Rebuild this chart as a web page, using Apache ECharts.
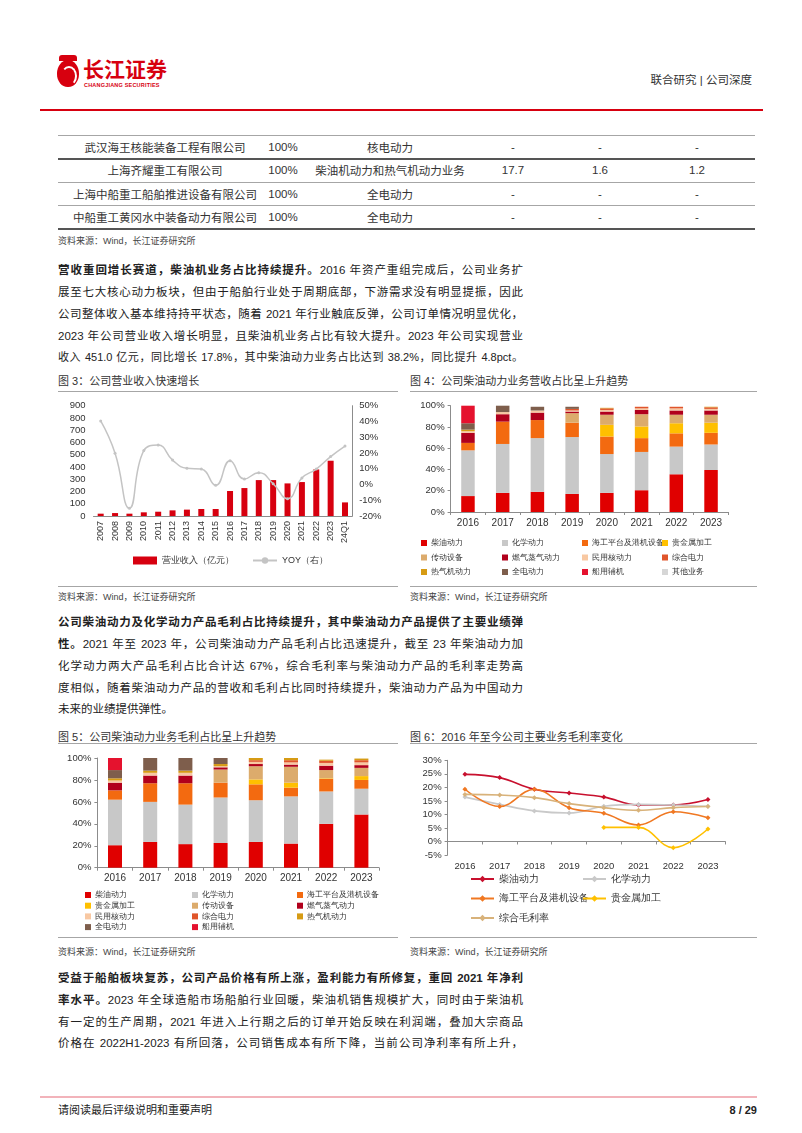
<!DOCTYPE html>
<html>
<head>
<meta charset="UTF-8" />
<title>中国动力 公司深度</title>
<style>
* { margin: 0; padding: 0; }
body {
  width: 802px; height: 1133px; position: relative; overflow: hidden; background: #fff;
  font-family: "Liberation Sans", "Noto Sans CJK SC", sans-serif; color: #222;
}
.abs { position: absolute; }
.txt { position: absolute; left: 58px; width: 465px; font-size: 11.5px; height: 22px; line-height: 22px;
  text-align: justify; text-align-last: justify; }
.txt.last { text-align-last: left; }
.cell { position: absolute; font-size: 11.5px; color: #333; transform: translate(-50%, -50%); white-space: nowrap; }
.hr { position: absolute; height: 1px; background: #a6a6a6; }
.figt { position: absolute; font-size: 11px; color: #333; line-height: 14px; }
.src { position: absolute; font-size: 9px; color: #444; line-height: 12px; }
.chart { position: absolute; }
</style>
</head>
<body>
<!-- header -->
<div class="abs" style="left:57px;top:60px;width:22px;height:27px;border-radius:50% 50% 48% 48%;background:#d7000f;"></div>
<div class="abs" style="left:61px;top:66px;width:12px;height:16px;border-radius:50%;border:2px solid #fff;border-left-color:transparent;border-bottom-color:transparent;"></div>
<div class="abs" style="left:59px;top:55px;width:18px;height:6px;border-radius:3px 3px 0 0;background:#d7000f;"></div>
<div class="abs" style="left:83px;top:58px;font-size:21px;font-weight:bold;color:#d7000f;line-height:24px;">长江证券</div>
<div class="abs" style="left:84px;top:82px;font-size:5.5px;font-weight:bold;color:#d7000f;line-height:7px;letter-spacing:0.2px;">CHANGJIANG SECURITIES</div>
<div class="abs" style="right:50px;top:73px;font-size:11.5px;color:#333;line-height:14px;">联合研究 | 公司深度</div>
<div class="abs" style="left:40px;top:109px;width:723px;height:2px;background:#d7000f;"></div>

<!-- table -->
<div class="hr" style="left:58px;top:135px;width:697px;"></div>
<div class="hr" style="left:58px;top:158px;width:697px;height:2px;background:#555;"></div>
<div class="hr" style="left:58px;top:182px;width:697px;"></div>
<div class="hr" style="left:58px;top:205px;width:697px;"></div>
<div class="hr" style="left:58px;top:228px;width:697px;height:2px;background:#555;"></div>
<div id="table"></div>
<div class="src" style="left:58px;top:235px;">资料来源：Wind，长江证券研究所</div>

<!-- paragraph 1 -->
<div class="txt" style="top:259px;"><b>营收重回增长赛道，柴油机业务占比持续提升。</b>2016 年资产重组完成后，公司业务扩</div>
<div class="txt" style="top:281px;">展至七大核心动力板块，但由于船舶行业处于周期底部，下游需求没有明显提振，因此</div>
<div class="txt" style="top:303px;">公司整体收入基本维持持平状态，随着 2021 年行业触底反弹，公司订单情况明显优化，</div>
<div class="txt" style="top:325px;">2023 年公司营业收入增长明显，且柴油机业务占比有较大提升。2023 年公司实现营业</div>
<div class="txt" style="top:346px;font-size:11px;">收入 451.0 亿元，同比增长 17.8%，其中柴油动力业务占比达到 38.2%，同比提升 4.8pct。</div>

<!-- figures 3/4 -->
<div class="figt" style="left:58px;top:374px;">图 3：公司营业收入快速增长</div>
<div class="figt" style="left:410px;top:374px;">图 4：公司柴油动力业务营收占比呈上升趋势</div>
<div class="hr" style="left:58px;top:391px;width:340px;"></div>
<div class="hr" style="left:410px;top:391px;width:347px;"></div>
<div id="c3" class="chart" style="left:55px;top:395px;width:345px;height:190px;"></div>
<div id="c4" class="chart" style="left:405px;top:395px;width:360px;height:190px;"></div>
<div class="hr" style="left:58px;top:586px;width:340px;"></div>
<div class="hr" style="left:410px;top:586px;width:347px;"></div>
<div class="src" style="left:58px;top:591px;">资料来源：Wind，长江证券研究所</div>
<div class="src" style="left:410px;top:591px;">资料来源：Wind，长江证券研究所</div>

<!-- paragraph 2 -->
<div class="txt" style="top:611px;"><b>公司柴油动力及化学动力产品毛利占比持续提升，其中柴油动力产品提供了主要业绩弹</b></div>
<div class="txt" style="top:633px;"><b>性。</b>2021 年至 2023 年，公司柴油动力产品毛利占比迅速提升，截至 23 年柴油动力加</div>
<div class="txt" style="top:655px;">化学动力两大产品毛利占比合计达 67%，综合毛利率与柴油动力产品的毛利率走势高</div>
<div class="txt" style="top:677px;">度相似，随着柴油动力产品的营收和毛利占比同时持续提升，柴油动力产品为中国动力</div>
<div class="txt last" style="top:698px;">未来的业绩提供弹性。</div>

<!-- figures 5/6 -->
<div class="figt" style="left:58px;top:730px;">图 5：公司柴油动力业务毛利占比呈上升趋势</div>
<div class="figt" style="left:410px;top:730px;">图 6：2016 年至今公司主要业务毛利率变化</div>
<div class="hr" style="left:58px;top:743px;width:340px;"></div>
<div class="hr" style="left:410px;top:743px;width:347px;"></div>
<div id="c5" class="chart" style="left:55px;top:745px;width:345px;height:190px;"></div>
<div id="c6" class="chart" style="left:405px;top:745px;width:360px;height:190px;"></div>
<div class="hr" style="left:58px;top:937px;width:340px;"></div>
<div class="hr" style="left:410px;top:937px;width:347px;"></div>
<div class="src" style="left:58px;top:946px;">资料来源：Wind，长江证券研究所</div>
<div class="src" style="left:410px;top:946px;">资料来源：Wind，长江证券研究所</div>

<!-- paragraph 3 -->
<div class="txt" style="top:967px;"><b>受益于船舶板块复苏，公司产品价格有所上涨，盈利能力有所修复，重回 2021 年净利</b></div>
<div class="txt" style="top:989px;"><b>率水平。</b>2023 年全球造船市场船舶行业回暖，柴油机销售规模扩大，同时由于柴油机</div>
<div class="txt" style="top:1011px;">有一定的生产周期，2021 年进入上行期之后的订单开始反映在利润端，叠加大宗商品</div>
<div class="txt" style="top:1032px;">价格在 2022H1-2023 有所回落，公司销售成本有所下降，当前公司净利率有所上升，</div>

<!-- footer -->
<div class="abs" style="left:40px;top:1096px;width:717px;height:2px;background:#f2b3ba;"></div>
<div class="abs" style="left:58px;top:1103px;font-size:11px;color:#222;line-height:14px;">请阅读最后评级说明和重要声明</div>
<div class="abs" style="right:45px;top:1103px;font-size:11px;font-weight:bold;color:#222;line-height:14px;">8 / 29</div>

<script src="https://cdn.jsdelivr.net/npm/echarts@6/dist/echarts.min.js"></script>
<script>
// table rows
const tableRows = [
  ['武汉海王核能装备工程有限公司', '100%', '核电动力', '-', '-', '-'],
  ['上海齐耀重工有限公司', '100%', '柴油机动力和热气机动力业务', '17.7', '1.6', '1.2'],
  ['上海中船重工船舶推进设备有限公司', '100%', '全电动力', '-', '-', '-'],
  ['中船重工黄冈水中装备动力有限公司', '100%', '全电动力', '-', '-', '-']
]
const colCenters = [165, 283, 390, 513, 600, 697]
const rowCenters = [147, 170, 194, 217]
let html = ''
tableRows.forEach((r, i) => {
  r.forEach((t, j) => {
    html += `<div class="cell" style="left:${colCenters[j]}px;top:${rowCenters[i]}px;">${t}</div>`
  })
})
document.getElementById('table').innerHTML = html

// ---- data ----
const revYears = ['2007','2008','2009','2010','2011','2012','2013','2014','2015','2016','2017','2018','2019','2020','2021','2022','2023','24Q1']
const revenue = [19, 24, 19, 30, 35, 46, 52, 57, 57, 204, 228, 293, 293, 266, 277, 380, 451, 111]
const revYoy = [40.3, 19.8, -15.1, 21.5, 25.0, 15.5, 10.3, 9.8, -0.5, 15.1, 3.5, 7.5, 0.5, -9.0, 4.1, 9.8, 17.7, 24.4]

const years = ['2016','2017','2018','2019','2020','2021','2022','2023']
const segNames = ['柴油动力','化学动力','海工平台及港机设备','贵金属加工','传动设备','燃气蒸气动力','民用核动力','综合电力','热气机动力','全电动力','船用辅机','其他业务']
const segColors = ['#e00000','#c8c8c8','#f36a10','#ffc000','#dcab6c','#b1001c','#f8c8a2','#e0552b','#d69b14','#7e5e4c','#e5122e','#d6d6d6']

// revenue share (%)
const revDiesel   = [15, 18, 19, 17, 18, 20.5, 35.5, 39.5]
const revChem     = [43, 46, 50.5, 53.5, 36.5, 36, 26, 24]
const revOffshore = [7, 21, 17, 13.5, 16.5, 13, 12.5, 11]
const revMetal    = [0, 0, 0, 0, 11, 11, 9.5, 9.5]
const revTrans    = [0, 0, 0, 9, 9.5, 11.5, 8, 7.5]
const revGas      = [9.5, 7, 7, 1.5, 3, 4, 4, 4]
const revNuclear  = [1.5, 2, 2, 1, 1.5, 1.5, 2, 1.5]
const revPower    = [0, 0, 0, 1.5, 1.5, 1.5, 1.5, 1.5]
const revStirling = [1.5, 0, 0, 0, 0.5, 0, 0, 0.5]
const revAllElec  = [6, 6, 3.5, 2, 0, 0, 0, 0]
const revAux      = [16.5, 0, 0, 0, 0, 0, 0, 0]
const revOther    = [0, 0, 0, 0, 0, 0, 0, 0]

// gross profit share (%)
const gpDiesel   = [20.5, 23.5, 21.5, 22.5, 23.5, 22, 40, 48.5]
const gpChem     = [41.5, 36.5, 36, 41.5, 38, 43, 29.5, 23.5]
const gpOffshore = [8.5, 17, 19.5, 13.5, 14.5, 8, 11.5, 8]
const gpMetal    = [0, 0, 0, 0, 4.5, 4.5, 0.5, 3.5]
const gpTrans    = [0, 0, 0, 12, 12, 14.5, 7.5, 7.5]
const gpGas      = [7, 7, 7, 2, 2, 2, 4, 2.5]
const gpNuclear  = [2, 2.5, 2.5, 1, 2, 2, 2.5, 2.5]
const gpPower    = [0, 0, 0, 0, 1.5, 2, 2, 2]
const gpStirling = [2, 2, 2, 2, 2, 2, 1, 1.5]
const gpAllElec  = [7.5, 11.5, 11.5, 5.5, 0, 0, 0, 0]
const gpAux      = [11, 0, 0, 0, 0, 0, 0, 0]

// gross margin (%)
const gmNames = ['柴油动力','化学动力','海工平台及港机设备','贵金属加工','综合毛利率']
const gmColors = ['#c8102e','#c9c9c9','#f07822','#ffc000','#d8b27a']
const gmDiesel   = [24.8, 23.6, 19.3, 17.9, 16.4, 13.5, 13.5, 15.5]
const gmChem     = [16.4, 13.7, 11.3, 10.5, 13.0, 13.7, 13.5, 13.0]
const gmOffshore = [19.3, 12.9, 19.3, 12.5, 10.4, 6.1, 11.0, 8.8]
const gmMetal    = [null, null, null, null, 5.2, 5.2, -2.3, 4.6]
const gmTotal    = [17.4, 17.2, 16.2, 14.0, 12.5, 11.5, 12.5, 12.9]

const axisColor = '#8c8c8c'
const labelStyle = { color: '#333', fontSize: 9.5, fontFamily: 'Liberation Sans' }

// ---- chart 3 ----
let c3 = echarts.init(document.getElementById('c3'))
c3.setOption({
  animation: false,
  grid: { left: 38.5, right: 47.8, top: 10.7, bottom: 69, containLabel: false, outerBoundsMode: 'none' },
  legend: {
    left: 78, top: 161, padding: 0, itemGap: 18, itemWidth: 24, itemHeight: 8,
    textStyle: { color: '#333', fontSize: 9 },
    data: [{ name: '营业收入（亿元）', icon: 'rect' }, { name: 'YOY（右）' }]
  },
  xAxis: {
    type: 'category', data: revYears,
    axisLine: { lineStyle: { color: axisColor } }, axisTick: { show: false },
    axisLabel: Object.assign({ rotate: 90, interval: 0, margin: 5 }, labelStyle, { fontSize: 9 })
  },
  yAxis: [
    { type: 'value', min: 0, max: 900, interval: 100, splitLine: { show: false },
      axisLine: { show: false }, axisTick: { show: false },
      axisLabel: Object.assign({ margin: 8 }, labelStyle) },
    { type: 'value', min: -20, max: 50, interval: 10, splitLine: { show: false },
      axisLine: { show: true, lineStyle: { color: axisColor } }, axisTick: { show: false },
      axisLabel: Object.assign({ formatter: '{value}%', margin: 7 }, labelStyle) }
  ],
  series: [
    { name: '营业收入（亿元）', type: 'bar', data: revenue, barWidth: 6, itemStyle: { color: '#d7000f' } },
    { name: 'YOY（右）', type: 'line', yAxisIndex: 1, data: revYoy, smooth: 0.5,
      symbol: 'circle', symbolSize: 3, lineStyle: { color: '#c4c4c4', width: 1.5 }, itemStyle: { color: '#c4c4c4' } }
  ]
})

// ---- stacked helper ----
function stackSeries(names, colors, arrays, bw) {
  return arrays.map((d, i) => ({
    name: names[i], type: 'bar', stack: 'all', data: d, barWidth: bw,
    itemStyle: { color: colors[i] }
  }))
}
function gridLegends(cols, lefts, top, gap, fontSize, lineH) {
  return cols.map((names, i) => ({
    orient: 'vertical', left: lefts[i], top: top, padding: 0, itemGap: gap,
    itemWidth: 6, itemHeight: 6, icon: 'rect',
    textStyle: { color: '#333', fontSize: fontSize, lineHeight: lineH, padding: [0, 0, 0, -1] },
    data: names
  }))
}
const pctAxis = {
  type: 'value', min: 0, max: 100, interval: 20, splitLine: { show: false },
  axisLine: { show: true, lineStyle: { color: axisColor } },
  axisTick: { show: true, length: 3, lineStyle: { color: axisColor } },
  axisLabel: Object.assign({ formatter: '{value}%', margin: 6 }, labelStyle)
}
const yearAxis = {
  type: 'category', data: years,
  axisLine: { lineStyle: { color: axisColor } },
  axisTick: { show: true, length: 3, lineStyle: { color: axisColor } },
  axisLabel: Object.assign({ margin: 6 }, labelStyle, { fontSize: 10 })
}

// ---- chart 4 ----
let c4 = echarts.init(document.getElementById('c4'))
c4.setOption({
  animation: false,
  grid: { left: 45.6, right: 36.6, top: 10.7, bottom: 73, containLabel: false, outerBoundsMode: 'none' },
  legend: gridLegends([
    ['柴油动力', '传动设备', '热气机动力'],
    ['化学动力', '燃气蒸气动力', '全电动力'],
    ['海工平台及港机设备', '民用核动力', '船用辅机'],
    ['贵金属加工', '综合电力', '其他业务']
  ], [16, 97, 177, 257], 143, 4.5, 7.5, 10),
  xAxis: yearAxis,
  yAxis: pctAxis,
  series: stackSeries(segNames, segColors,
    [revDiesel, revChem, revOffshore, revMetal, revTrans, revGas, revNuclear, revPower, revStirling, revAllElec, revAux, revOther], 13.5)
})

// ---- chart 5 ----
let c5 = echarts.init(document.getElementById('c5'))
c5.setOption({
  animation: false,
  grid: { left: 42.4, right: 21, top: 13, bottom: 67.3, containLabel: false, outerBoundsMode: 'none' },
  legend: gridLegends([
    ['柴油动力', '贵金属加工', '民用核动力', '全电动力'],
    ['化学动力', '传动设备', '综合电力', '船用辅机'],
    ['海工平台及港机设备', '燃气蒸气动力', '热气机动力']
  ], [30, 137, 242], 145.5, 1.7, 8, 9),
  xAxis: yearAxis,
  yAxis: pctAxis,
  series: stackSeries(segNames.slice(0, 11), segColors.slice(0, 11),
    [gpDiesel, gpChem, gpOffshore, gpMetal, gpTrans, gpGas, gpNuclear, gpPower, gpStirling, gpAllElec, gpAux], 14)
})

// ---- chart 6 ----
let c6 = echarts.init(document.getElementById('c6'))
const gmData = [gmDiesel, gmChem, gmOffshore, gmMetal, gmTotal]
c6.setOption({
  animation: false,
  grid: { left: 42.6, right: 39.7, top: 15.3, bottom: 80, containLabel: false, outerBoundsMode: 'none' },
  legend: [
    { orient: 'vertical', left: 65, top: 128, padding: 0, itemGap: 7.5, itemWidth: 23, itemHeight: 8,
      textStyle: { color: '#333', fontSize: 9.5, lineHeight: 12 }, data: ['柴油动力', '海工平台及港机设备', '综合毛利率'] },
    { orient: 'vertical', left: 177, top: 128, padding: 0, itemGap: 7.5, itemWidth: 23, itemHeight: 8,
      textStyle: { color: '#333', fontSize: 9.5, lineHeight: 12 }, data: ['化学动力', '贵金属加工'] }
  ],
  xAxis: {
    type: 'category', data: years,
    axisLine: { onZero: true, lineStyle: { color: axisColor } },
    axisTick: { show: true, length: 3, lineStyle: { color: axisColor } },
    axisLabel: Object.assign({ margin: 6 }, labelStyle)
  },
  yAxis: {
    type: 'value', min: -5, max: 30, interval: 5, splitLine: { show: false },
    axisLine: { show: true, lineStyle: { color: axisColor } },
    axisTick: { show: true, length: 3, lineStyle: { color: axisColor } },
    axisLabel: Object.assign({ formatter: '{value}%', margin: 6 }, labelStyle)
  },
  series: gmData.map((d, i) => ({
    name: gmNames[i], type: 'line', data: d, smooth: 0.4, symbol: 'diamond', symbolSize: 5,
    lineStyle: { color: gmColors[i], width: 1.6 }, itemStyle: { color: gmColors[i] }
  }))
})
</script>
</body>
</html>
